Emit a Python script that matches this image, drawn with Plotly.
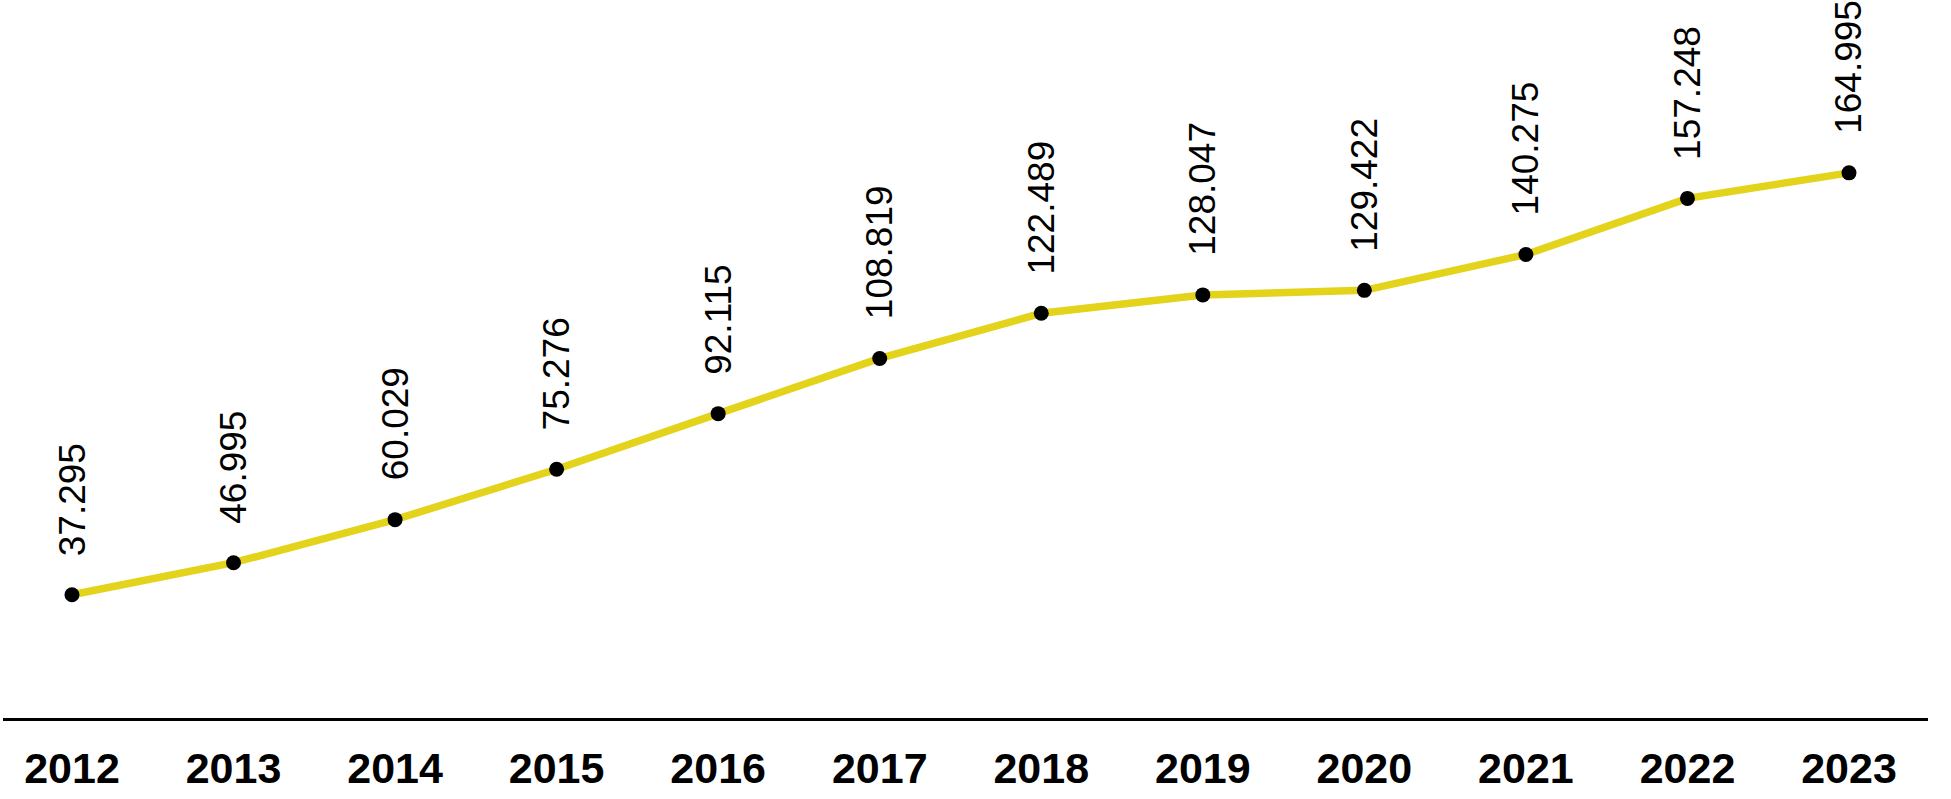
import plotly.graph_objects as go

years = [2012, 2013, 2014, 2015, 2016, 2017, 2018, 2019, 2020, 2021, 2022, 2023]
values = [37.295, 46.995, 60.029, 75.276, 92.115, 108.819, 122.489, 128.047, 129.422, 140.275, 157.248, 164.995]
value_labels = ["37.295", "46.995", "60.029", "75.276", "92.115", "108.819", "122.489", "128.047", "129.422", "140.275", "157.248", "164.995"]
tick_labels = [str(y) for y in years]

LINE_COLOR = "#E3D31B"
FONT = "Liberation Sans, Arial, sans-serif"

fig = go.Figure()
fig.add_trace(go.Scatter(
    x=years, y=values, mode="lines+markers",
    line=dict(color=LINE_COLOR, width=7.5),
    marker=dict(color="black", size=15),
    hoverinfo="skip", showlegend=False,
))

for x, y, t in zip(years, values, value_labels):
    fig.add_annotation(
        x=x, y=y, xref="x", yref="y", text=t, showarrow=False,
        textangle=-90, xanchor="center", yanchor="bottom", yshift=37,
        font=dict(family=FONT, size=37, color="black"),
    )

fig.update_layout(
    width=1951, height=799,
    margin=dict(l=3, r=23, t=0, b=81, autoexpand=False),
    paper_bgcolor="white", plot_bgcolor="white",
    xaxis=dict(
        range=[2011.573, 2023.489], automargin=False,
        tickvals=years, ticktext=tick_labels,
        showgrid=False, zeroline=False,
        showline=True, linecolor="black", linewidth=3,
        ticks="", ticklabelstandoff=10,
        tickfont=dict(family=FONT, size=43, color="black", weight="bold"),
    ),
    yaxis=dict(
        range=[0, 217.3], visible=False, showgrid=False, zeroline=False,
        automargin=False,
    ),
)

fig.write_html(
    "out.html",
    config={"displayModeBar": False},
    post_script="document.body.style.margin='0';",
)
